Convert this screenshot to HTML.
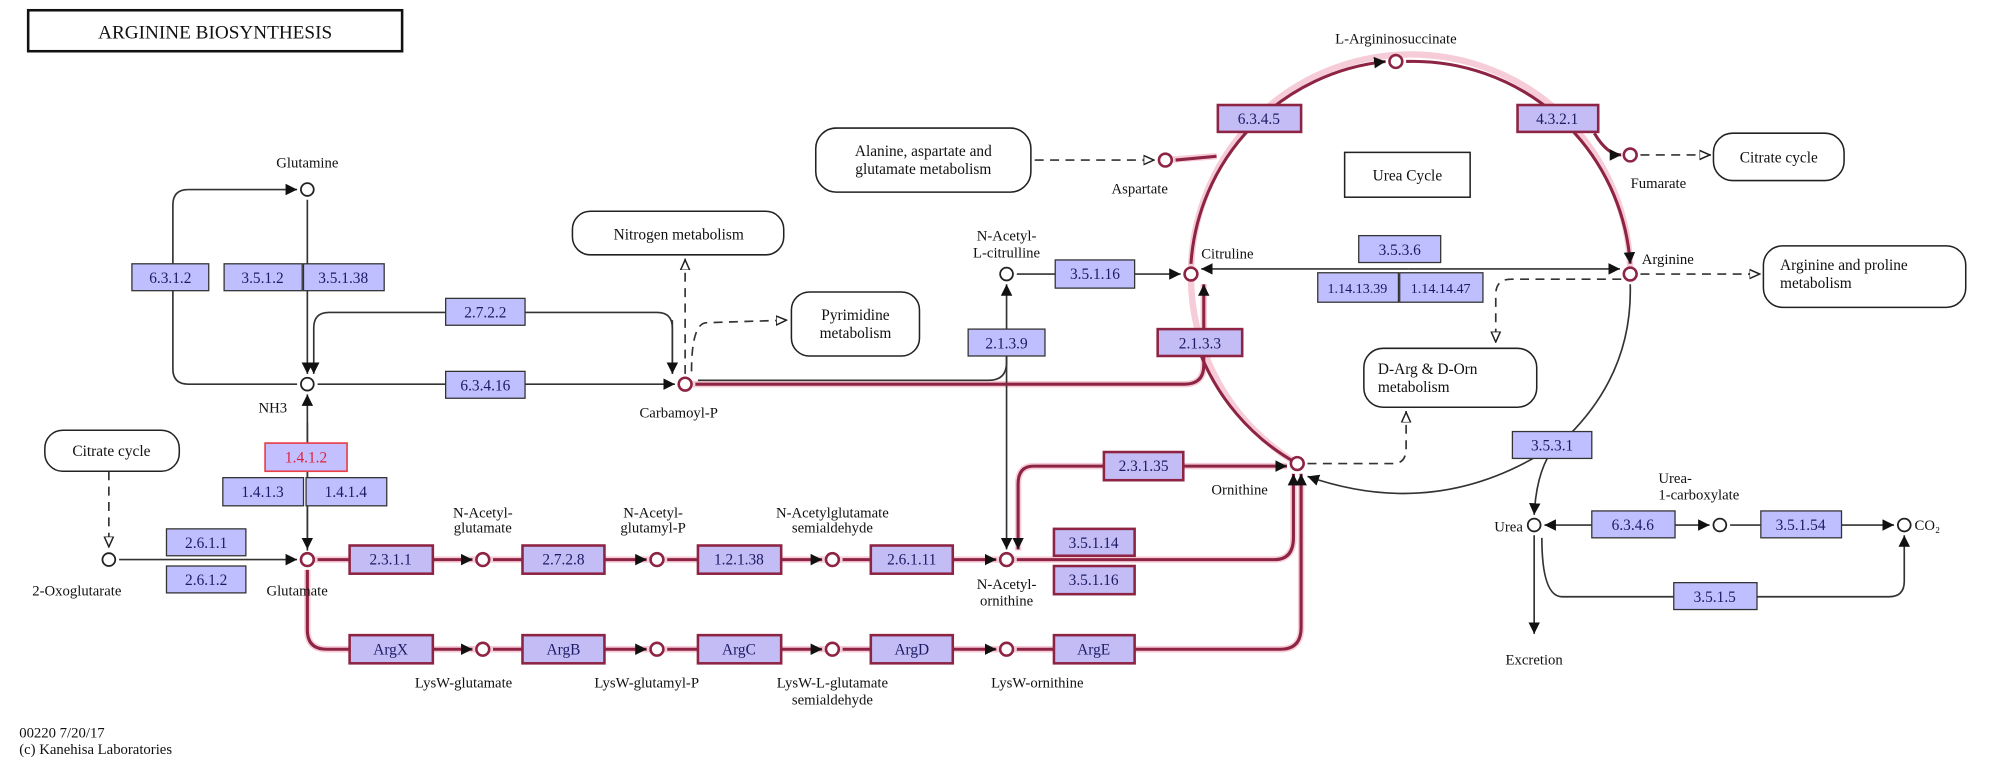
<!DOCTYPE html>
<html><head><meta charset="utf-8"><style>
html,body{margin:0;padding:0;background:#fff;}
svg{display:block;}
text{font-family:"Liberation Serif",serif;font-size:11.5px;fill:#111;}
.e{fill:#bfbfff;stroke:#333;stroke-width:1;}
.er{fill:#c4bcf4;stroke:#8e2444;stroke-width:2;}
.et{text-anchor:middle;font-size:12px;fill:#1a1a66;}
.b{fill:none;stroke:#333;stroke-width:1.3;}
.r{fill:none;stroke:#8e2444;stroke-width:2.4;}
.rg{fill:none;stroke:#f6ccd8;stroke-width:5;}
.d{fill:none;stroke:#333;stroke-width:1.3;stroke-dasharray:7,5;}
.c{fill:#fff;stroke:#222;stroke-width:1.4;}
.cr{fill:#fff;stroke:#8e2444;stroke-width:2;}
.m{fill:#fff;stroke:#222;stroke-width:1.2;}
.mt{text-anchor:middle;font-size:12px;}
</style></head><body>
<svg width="2008" height="765" viewBox="0 0 1568 597.4" preserveAspectRatio="none" xmlns="http://www.w3.org/2000/svg">
<defs>
<marker id="a" viewBox="0 0 10 10" refX="10" refY="5" markerUnits="userSpaceOnUse" markerWidth="9" markerHeight="9" orient="auto"><path d="M0,0 L10,5 L0,10z" fill="#111"/></marker>
<marker id="o" viewBox="0 0 10 10" refX="10" refY="5" markerUnits="userSpaceOnUse" markerWidth="9" markerHeight="9" orient="auto"><path d="M0,1 L9,5 L0,9z" fill="#fff" stroke="#222" stroke-width="1.3"/></marker>
</defs>
<rect x="0" y="0" width="1568" height="597.4" fill="#fff"/>
<rect x="22" y="8" width="292" height="32" fill="#fff" stroke="#111" stroke-width="2"/>
<text x="168" y="30" text-anchor="middle" style="font-size:15px">ARGININE  BIOSYNTHESIS</text>

<g class="rg">
<path d="M540,300 L925,300 Q940,300 940,285 L940,222"/>
<path d="M950,122 L910,125"/>
<path d="M245,437 L780,437"/><path d="M790,437 L995,437 Q1010,437 1010,420 L1010,375"/>
<path d="M240,445 L240,492 Q240,507 255,507 L1000,507 Q1016,507 1016,490 L1016,375"/>
<path d="M1005,364 L807,364 Q795,364 795,378 L795,430"/>
<path d="M930,214 A170,170 0 0 1 1273,214"/>
<path d="M1013,362 A170,170 0 0 1 930,214"/>
</g>
<path class="b" d="M147,148 L232,148" marker-end="url(#a)"/>
<path class="b" d="M147,148 Q135,148 135,160 L135,288 Q135,300 147,300 L232,300"/>
<path class="b" d="M240,156 L240,292" marker-end="url(#a)"/>
<path class="b" d="M525,292 L525,256 Q525,244 513,244 L257,244 Q245,244 245,256 L245,292" marker-end="url(#a)"/>
<path class="b" d="M525,250 L525,292" marker-end="url(#a)"/>
<path class="b" d="M248,300 L527,300" marker-end="url(#a)"/>
<path class="b" d="M240,430 L240,308" marker-end="url(#a)"/>
<path class="b" d="M240,330 L240,429" marker-end="url(#a)"/>
<path class="b" d="M93,437 L232,437" marker-end="url(#a)"/>
<path class="b" d="M545,297 L772,297 Q786,297 786,283 L786,222" marker-end="url(#a)"/>
<path class="b" d="M786,260 L786,429" marker-end="url(#a)"/>
<path class="b" d="M794,214 L922,214" marker-end="url(#a)"/>
<path class="b" d="M1100,210 L938,210" marker-end="url(#a)"/>
<path class="b" d="M1100,210 L1265,210" marker-end="url(#a)"/>
<path class="b" d="M1273,222 Q1275,290 1225,340 Q1130,410 1021,372" marker-end="url(#a)"/>
<path class="b" d="M1215,348 Q1200,365 1198,402" marker-end="url(#a)"/>
<path class="b" d="M1198,418 L1198,495" marker-end="url(#a)"/>
<path class="b" d="M1243,410 L1206,410" marker-end="url(#a)"/>
<path class="b" d="M1308,410 L1335,410" marker-end="url(#a)"/>
<path class="b" d="M1351,410 L1479,410" marker-end="url(#a)"/>
<path class="b" d="M1204,420 Q1204,466 1220,466 L1475,466 Q1487,466 1487,454 L1487,418" marker-end="url(#a)"/>
<path class="d" d="M535,292 L535,202" marker-end="url(#o)"/>
<path class="d" d="M540,290 Q540,252 552,252 L615,250" marker-end="url(#o)"/>
<path class="d" d="M808,125 L902,125" marker-end="url(#o)"/>
<path class="d" d="M1281,121 L1336,121" marker-end="url(#o)"/>
<path class="d" d="M1281,214 L1375,214" marker-end="url(#o)"/>
<path class="d" d="M1266,218 L1180,218 Q1168,218 1168,230 L1168,268" marker-end="url(#o)"/>
<path class="d" d="M1021,362 L1088,362 Q1098,362 1098,350 L1098,321" marker-end="url(#o)"/>
<path class="d" d="M85,368 L85,428" marker-end="url(#o)"/>
<g class="r">
<path d="M543,300 L925,300 Q940,300 940,285 L940,222" marker-end="url(#a)"/>
<path d="M950,122 L918,125"/>
<path d="M248,437 L369,437" marker-end="url(#a)"/>
<path d="M385,437 L505,437" marker-end="url(#a)"/>
<path d="M521,437 L642,437" marker-end="url(#a)"/>
<path d="M658,437 L778,437" marker-end="url(#a)"/>
<path d="M794,437 L995,437 Q1010,437 1010,420 L1010,370" marker-end="url(#a)"/>
<path d="M240,445 L240,492 Q240,507 255,507 L369,507" marker-end="url(#a)"/>
<path d="M385,507 L505,507" marker-end="url(#a)"/>
<path d="M521,507 L642,507" marker-end="url(#a)"/>
<path d="M658,507 L778,507" marker-end="url(#a)"/>
<path d="M794,507 L1000,507 Q1016,507 1016,490 L1016,370" marker-end="url(#a)"/>
<path d="M807,364 L1005,364" marker-end="url(#a)"/>
<path d="M807,364 Q795,364 795,378 L795,429" marker-end="url(#a)"/>
<path d="M930,206 A170,170 0 0 1 1082,48" marker-end="url(#a)"/>
<path d="M1098,48 A170,170 0 0 1 1273,206" marker-end="url(#a)"/>
<path d="M1245,104 Q1255,121 1266,121" marker-end="url(#a)"/>
<path d="M1013,362 A170,170 0 0 1 935,270"/>
</g>
<g>
<circle class="c" cx="240" cy="148" r="5"/><circle class="c" cx="240" cy="300" r="5"/>
<circle class="cr" cx="535" cy="300" r="5"/><circle class="c" cx="786" cy="214" r="5"/>
<circle class="cr" cx="930" cy="214" r="5"/><circle class="cr" cx="1090" cy="48" r="5"/>
<circle class="cr" cx="910" cy="125" r="5"/><circle class="cr" cx="1273" cy="121" r="5"/>
<circle class="cr" cx="1273" cy="214" r="5"/><circle class="cr" cx="1013" cy="362" r="5"/>
<circle class="c" cx="85" cy="437" r="5"/><circle class="cr" cx="240" cy="437" r="5"/>
<circle class="cr" cx="377" cy="437" r="5"/><circle class="cr" cx="513" cy="437" r="5"/>
<circle class="cr" cx="650" cy="437" r="5"/><circle class="cr" cx="786" cy="437" r="5"/>
<circle class="cr" cx="377" cy="507" r="5"/><circle class="cr" cx="513" cy="507" r="5"/>
<circle class="cr" cx="650" cy="507" r="5"/><circle class="cr" cx="786" cy="507" r="5"/>
<circle class="c" cx="1198" cy="410" r="5"/><circle class="c" cx="1343" cy="410" r="5"/>
<circle class="c" cx="1487" cy="410" r="5"/>
</g>
<rect class="m" x="447" y="165" width="165" height="34" rx="14"/><text class="mt" x="530" y="187">Nitrogen metabolism</text>
<rect class="m" x="618" y="228" width="100" height="50" rx="14"/><text class="mt" x="668" y="250">Pyrimidine</text><text class="mt" x="668" y="264">metabolism</text>
<rect class="m" x="637" y="100" width="168" height="50" rx="16"/><text class="mt" x="721" y="122">Alanine, aspartate and</text><text class="mt" x="721" y="136">glutamate metabolism</text>
<rect class="m" x="1338" y="104" width="102" height="37" rx="15"/><text class="mt" x="1389" y="127">Citrate cycle</text>
<rect class="m" x="1377" y="192" width="158" height="48" rx="15"/><text x="1390" y="211" style="font-size:12px">Arginine and proline</text><text x="1390" y="225" style="font-size:12px">metabolism</text>
<rect class="m" x="1065" y="272" width="135" height="46" rx="15"/><text x="1076" y="292" style="font-size:12px">D-Arg &amp; D-Orn</text><text x="1076" y="306" style="font-size:12px">metabolism</text>
<rect class="m" x="35" y="336" width="105" height="32" rx="14"/><text class="mt" x="87" y="356">Citrate cycle</text>
<rect x="1050" y="119" width="98" height="35" fill="#fff" stroke="#222" stroke-width="1.2"/><text class="mt" x="1099" y="141">Urea Cycle</text>
<g>
<rect class="e" x="103" y="206" width="60" height="21"/><text class="et" x="133" y="221">6.3.1.2</text>
<rect class="e" x="175" y="206" width="61" height="21"/><text class="et" x="205" y="221">3.5.1.2</text>
<rect class="e" x="237" y="206" width="63" height="21"/><text class="et" x="268" y="221">3.5.1.38</text>
<rect class="e" x="348" y="233" width="62" height="21"/><text class="et" x="379" y="248">2.7.2.2</text>
<rect class="e" x="348" y="290" width="62" height="21"/><text class="et" x="379" y="305">6.3.4.16</text>
<rect class="e" x="756" y="257" width="60" height="21"/><text class="et" x="786" y="272">2.1.3.9</text>
<rect class="e" x="824" y="203" width="62" height="22"/><text class="et" x="855" y="218">3.5.1.16</text>
<rect class="er" x="904" y="257" width="66" height="21"/><text class="et" x="937" y="272">2.1.3.3</text>
<rect class="er" x="951" y="82" width="65" height="21"/><text class="et" x="983" y="97">6.3.4.5</text>
<rect class="er" x="1185" y="82" width="63" height="21"/><text class="et" x="1216" y="97">4.3.2.1</text>
<rect class="e" x="1061" y="184" width="64" height="21"/><text class="et" x="1093" y="199">3.5.3.6</text>
<rect class="e" x="1029" y="213" width="63" height="23"/><text class="et" x="1060" y="229" style="font-size:11px">1.14.13.39</text>
<rect class="e" x="1093" y="213" width="65" height="23"/><text class="et" x="1125" y="229" style="font-size:11px">1.14.14.47</text>
<rect class="e" x="1181" y="337" width="62" height="21"/><text class="et" x="1212" y="352">3.5.3.1</text>
<rect class="e" x="1243" y="399" width="65" height="21"/><text class="et" x="1275" y="414">6.3.4.6</text>
<rect class="e" x="1375" y="399" width="63" height="21"/><text class="et" x="1406" y="414">3.5.1.54</text>
<rect class="e" x="1307" y="455" width="65" height="21"/><text class="et" x="1339" y="470">3.5.1.5</text>
<rect class="er" x="862" y="353" width="62" height="22"/><text class="et" x="893" y="368">2.3.1.35</text>
<rect class="er" x="823" y="413" width="63" height="21"/><text class="et" x="854" y="428">3.5.1.14</text>
<rect class="er" x="823" y="442" width="63" height="22"/><text class="et" x="854" y="457">3.5.1.16</text>
<rect class="er" x="823" y="496" width="63" height="22"/><text class="et" x="854" y="511">ArgE</text>
<rect class="e" x="130" y="413" width="62" height="21"/><text class="et" x="161" y="428">2.6.1.1</text>
<rect class="e" x="130" y="442" width="62" height="21"/><text class="et" x="161" y="457">2.6.1.2</text>
<rect x="207" y="346" width="64" height="22" fill="#c4c0ff" stroke="#e8404a" stroke-width="1.3"/><text class="et" x="239" y="361" style="fill:#e0203a">1.4.1.2</text>
<rect class="e" x="174" y="373" width="63" height="22"/><text class="et" x="205" y="388">1.4.1.3</text>
<rect class="e" x="239" y="373" width="63" height="22"/><text class="et" x="270" y="388">1.4.1.4</text>
<rect class="er" x="273" y="426" width="65" height="22"/><text class="et" x="305" y="441">2.3.1.1</text>
<rect class="er" x="408" y="426" width="64" height="22"/><text class="et" x="440" y="441">2.7.2.8</text>
<rect class="er" x="545" y="426" width="65" height="22"/><text class="et" x="577" y="441">1.2.1.38</text>
<rect class="er" x="680" y="426" width="64" height="22"/><text class="et" x="712" y="441">2.6.1.11</text>
<rect class="er" x="273" y="496" width="65" height="22"/><text class="et" x="305" y="511">ArgX</text>
<rect class="er" x="408" y="496" width="64" height="22"/><text class="et" x="440" y="511">ArgB</text>
<rect class="er" x="545" y="496" width="65" height="22"/><text class="et" x="577" y="511">ArgC</text>
<rect class="er" x="680" y="496" width="64" height="22"/><text class="et" x="712" y="511">ArgD</text>
</g>
<g>
<text x="240" y="131" text-anchor="middle">Glutamine</text>
<text x="213" y="322" text-anchor="middle">NH3</text>
<text x="530" y="326" text-anchor="middle">Carbamoyl-P</text>
<text x="786" y="188" text-anchor="middle">N-Acetyl-</text><text x="786" y="201" text-anchor="middle">L-citrulline</text>
<text x="938" y="202">Citruline</text>
<text x="1090" y="34" text-anchor="middle">L-Argininosuccinate</text>
<text x="890" y="151" text-anchor="middle">Aspartate</text>
<text x="1295" y="147" text-anchor="middle">Fumarate</text>
<text x="1282" y="206">Arginine</text>
<text x="968" y="386" text-anchor="middle">Ornithine</text>
<text x="60" y="465" text-anchor="middle">2-Oxoglutarate</text>
<text x="232" y="465" text-anchor="middle">Glutamate</text>
<text x="377" y="404" text-anchor="middle">N-Acetyl-</text><text x="377" y="416" text-anchor="middle">glutamate</text>
<text x="510" y="404" text-anchor="middle">N-Acetyl-</text><text x="510" y="416" text-anchor="middle">glutamyl-P</text>
<text x="650" y="404" text-anchor="middle">N-Acetylglutamate</text><text x="650" y="416" text-anchor="middle">semialdehyde</text>
<text x="786" y="460" text-anchor="middle">N-Acetyl-</text><text x="786" y="473" text-anchor="middle">ornithine</text>
<text x="362" y="537" text-anchor="middle">LysW-glutamate</text>
<text x="505" y="537" text-anchor="middle">LysW-glutamyl-P</text>
<text x="650" y="537" text-anchor="middle">LysW-L-glutamate</text><text x="650" y="550" text-anchor="middle">semialdehyde</text>
<text x="810" y="537" text-anchor="middle">LysW-ornithine</text>
<text x="1178" y="415" text-anchor="middle">Urea</text>
<text x="1295" y="377">Urea-</text><text x="1295" y="390">1-carboxylate</text>
<text x="1495" y="414">CO₂</text>
<text x="1198" y="519" text-anchor="middle">Excretion</text>
<text x="15" y="576">00220 7/20/17</text>
<text x="15" y="589">(c) Kanehisa Laboratories</text>
</g>
</svg>
</body></html>
